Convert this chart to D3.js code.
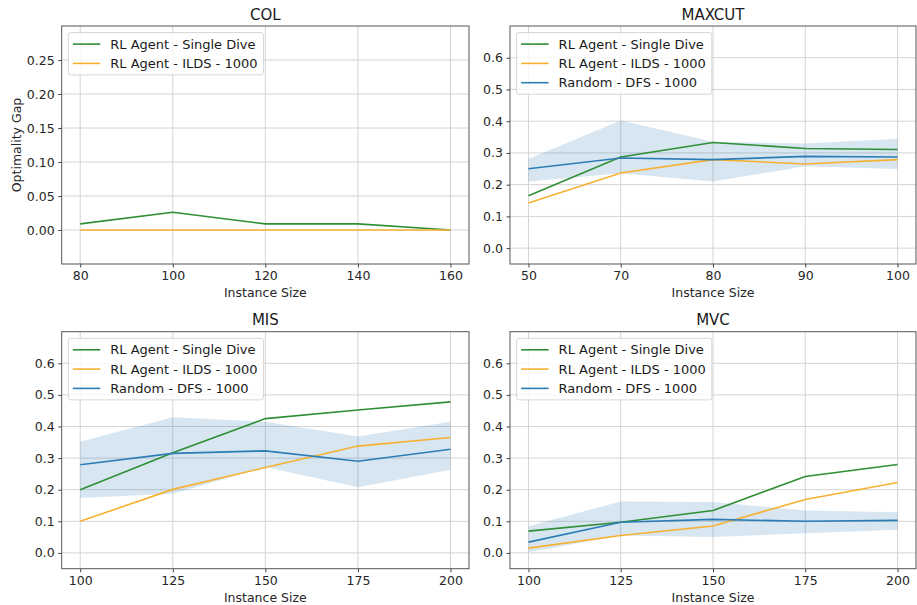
<!DOCTYPE html>
<html>
<head>
<meta charset="utf-8">
<script src="https://cdn.jsdelivr.net/npm/d3@7"></script>
<style>
  body { margin: 0; background: #fff; }
  svg { display: block; font-family: 'DejaVu Sans', sans-serif; }
</style>
</head>
<body>
<script>
const width = 917
const height = 605
const green = '#2f8f35'
const orange = '#f7b131'
const blue = '#2c7db5'
const seriesNames = ['RL Agent - Single Dive', 'RL Agent - ILDS - 1000', 'Random - DFS - 1000']

// COL
const colSizes = [80, 100, 120, 140, 160]
const colSingleDive = [0.009, 0.026, 0.009, 0.009, 0.0]
const colIlds = [0.0, 0.0, 0.0, 0.0, 0.0]

// MAXCUT
const maxcutSizes = [50, 70, 80, 90, 100]
const maxcutSingleDive = [0.165, 0.287, 0.333, 0.314, 0.311]
const maxcutIlds = [0.142, 0.237, 0.279, 0.265, 0.279]
const maxcutRandom = [0.250, 0.284, 0.279, 0.289, 0.287]
const maxcutRandomLow = [0.210, 0.236, 0.210, 0.258, 0.249]
const maxcutRandomHigh = [0.281, 0.402, 0.335, 0.330, 0.345]

// MIS
const misSizes = [100, 125, 150, 175, 200]
const misSingleDive = [0.200, 0.317, 0.425, 0.452, 0.478]
const misIlds = [0.100, 0.201, 0.270, 0.338, 0.365]
const misRandom = [0.279, 0.315, 0.323, 0.290, 0.328]
const misRandomLow = [0.174, 0.187, 0.272, 0.208, 0.263]
const misRandomHigh = [0.352, 0.429, 0.415, 0.368, 0.415]

// MVC
const mvcSizes = [100, 125, 150, 175, 200]
const mvcSingleDive = [0.069, 0.097, 0.134, 0.242, 0.280]
const mvcIlds = [0.015, 0.055, 0.085, 0.169, 0.223]
const mvcRandom = [0.034, 0.097, 0.106, 0.100, 0.103]
const mvcRandomLow = [0.002, 0.055, 0.050, 0.062, 0.073]
const mvcRandomHigh = [0.084, 0.163, 0.161, 0.134, 0.129]

const smallTicks = [0, 0.05, 0.10, 0.15, 0.20, 0.25]
const bigTicks = [0, 0.1, 0.2, 0.3, 0.4, 0.5, 0.6]

const panels = [
  { title: 'COL', sizes: colSizes, lines: [colSingleDive, colIlds], box: [61.7, 26, 469, 264],
    yDomain: [-0.05, 0.30], yTicks: smallTicks, fmt: '.2f', ylabel: true },
  { title: 'MAXCUT', sizes: maxcutSizes, lines: [maxcutSingleDive, maxcutIlds, maxcutRandom],
    low: maxcutRandomLow, high: maxcutRandomHigh, box: [510, 26, 916, 264],
    yDomain: [-0.05, 0.70], yTicks: bigTicks, fmt: '.1f' },
  { title: 'MIS', sizes: misSizes, lines: [misSingleDive, misIlds, misRandom],
    low: misRandomLow, high: misRandomHigh, box: [61.7, 331.7, 469, 568.7],
    yDomain: [-0.05, 0.70], yTicks: bigTicks, fmt: '.1f' },
  { title: 'MVC', sizes: mvcSizes, lines: [mvcSingleDive, mvcIlds, mvcRandom],
    low: mvcRandomLow, high: mvcRandomHigh, box: [510, 331.7, 916, 568.7],
    yDomain: [-0.05, 0.70], yTicks: bigTicks, fmt: '.1f' }
]
const colors = [green, orange, blue]

const svg = d3.select('body')
  .append('svg')
  .attr('width', width)
  .attr('height', height)

panels.forEach(p => {
  const [x0, y0, x1, y1] = p.box
  const g = svg.append('g')

  const xScale = d3.scalePoint()
    .domain(p.sizes)
    .range([x0, x1])
    .padding(0.2)

  const yScale = d3.scaleLinear()
    .domain(p.yDomain)
    .range([y1, y0])

  // grid
  g.selectAll('.vgrid')
    .data(p.sizes)
    .join('line')
    .attr('x1', d => xScale(d)).attr('x2', d => xScale(d))
    .attr('y1', y0).attr('y2', y1)
    .attr('stroke', '#d4d4d4').attr('stroke-width', 1)

  g.selectAll('.hgrid')
    .data(p.yTicks)
    .join('line')
    .attr('x1', x0).attr('x2', x1)
    .attr('y1', d => yScale(d)).attr('y2', d => yScale(d))
    .attr('stroke', '#d4d4d4').attr('stroke-width', 1)

  // band
  if (p.low) {
    const area = d3.area()
      .x((d, i) => xScale(p.sizes[i]))
      .y0((d, i) => yScale(p.low[i]))
      .y1((d, i) => yScale(p.high[i]))
    g.append('path')
      .datum(p.low)
      .attr('d', area)
      .attr('fill', '#1f77b4')
      .attr('fill-opacity', 0.18)
  }

  // lines
  const line = d3.line()
    .x((d, i) => xScale(p.sizes[i]))
    .y(d => yScale(d))
  p.lines.forEach((vals, k) => {
    g.append('path')
      .datum(vals)
      .attr('d', line)
      .attr('fill', 'none')
      .attr('stroke', colors[k])
      .attr('stroke-width', 1.6)
  })

  // axes
  const xAxis = d3.axisBottom(xScale).tickSizeOuter(0).tickSize(3.5).tickPadding(3.5)
  g.append('g')
    .attr('transform', `translate(0,${y1})`)
    .call(xAxis)
    .call(a => a.select('.domain').remove())
    .call(a => a.selectAll('text').attr('font-size', 12.5).attr('fill', '#262626').attr('font-family', 'DejaVu Sans'))
    .call(a => a.selectAll('line').attr('stroke', '#444'))

  const yAxis = d3.axisLeft(yScale).tickValues(p.yTicks).tickFormat(d3.format(p.fmt))
    .tickSizeOuter(0).tickSize(3.5).tickPadding(3.5)
  g.append('g')
    .attr('transform', `translate(${x0},0)`)
    .call(yAxis)
    .call(a => a.select('.domain').remove())
    .call(a => a.selectAll('text').attr('font-size', 12.5).attr('fill', '#262626').attr('font-family', 'DejaVu Sans'))
    .call(a => a.selectAll('line').attr('stroke', '#444'))

  // frame
  g.append('rect')
    .attr('x', x0).attr('y', y0)
    .attr('width', x1 - x0).attr('height', y1 - y0)
    .attr('fill', 'none')
    .attr('stroke', '#555')
    .attr('stroke-width', 1)

  // title + labels
  g.append('text')
    .text(p.title)
    .attr('x', (x0 + x1) / 2)
    .attr('y', y0 - 6.5)
    .attr('text-anchor', 'middle')
    .attr('font-size', 15)
    .attr('fill', '#1a1a1a')

  g.append('text')
    .text('Instance Size')
    .attr('x', (x0 + x1) / 2)
    .attr('y', y1 + 33)
    .attr('text-anchor', 'middle')
    .attr('font-size', 12.5)
    .attr('fill', '#262626')

  if (p.ylabel) {
    g.append('text')
      .text('Optimality Gap')
      .attr('transform', `translate(${x0 - 41},${(y0 + y1) / 2}) rotate(-90)`)
      .attr('text-anchor', 'middle')
      .attr('font-size', 12.5)
      .attr('fill', '#262626')
  }

  // legend
  const legend = g.append('g')
  const lx = x0 + 6.6
  const ly = y0 + 6.6
  const rowH = 19.3
  const n = p.lines.length
  const box = legend.append('rect')
    .attr('x', lx).attr('y', ly)
    .attr('height', rowH * (n - 1) + 23)
    .attr('rx', 2.5)
    .attr('fill', '#fff').attr('fill-opacity', 0.8)
    .attr('stroke', '#d6d6d6')
  let maxW = 0
  for (let k = 0; k < n; k++) {
    const cy = ly + 11.5 + k * rowH
    legend.append('line')
      .attr('x1', lx + 4.5).attr('x2', lx + 32)
      .attr('y1', cy).attr('y2', cy)
      .attr('stroke', colors[k]).attr('stroke-width', 1.6)
    const t = legend.append('text')
      .text(seriesNames[k])
      .attr('x', lx + 42)
      .attr('y', cy + 4.6)
      .attr('font-size', 13)
      .attr('fill', '#1a1a1a')
    maxW = Math.max(maxW, t.node().getComputedTextLength())
  }
  box.attr('width', 42 + maxW + 6)
})
</script>
</body>
</html>
